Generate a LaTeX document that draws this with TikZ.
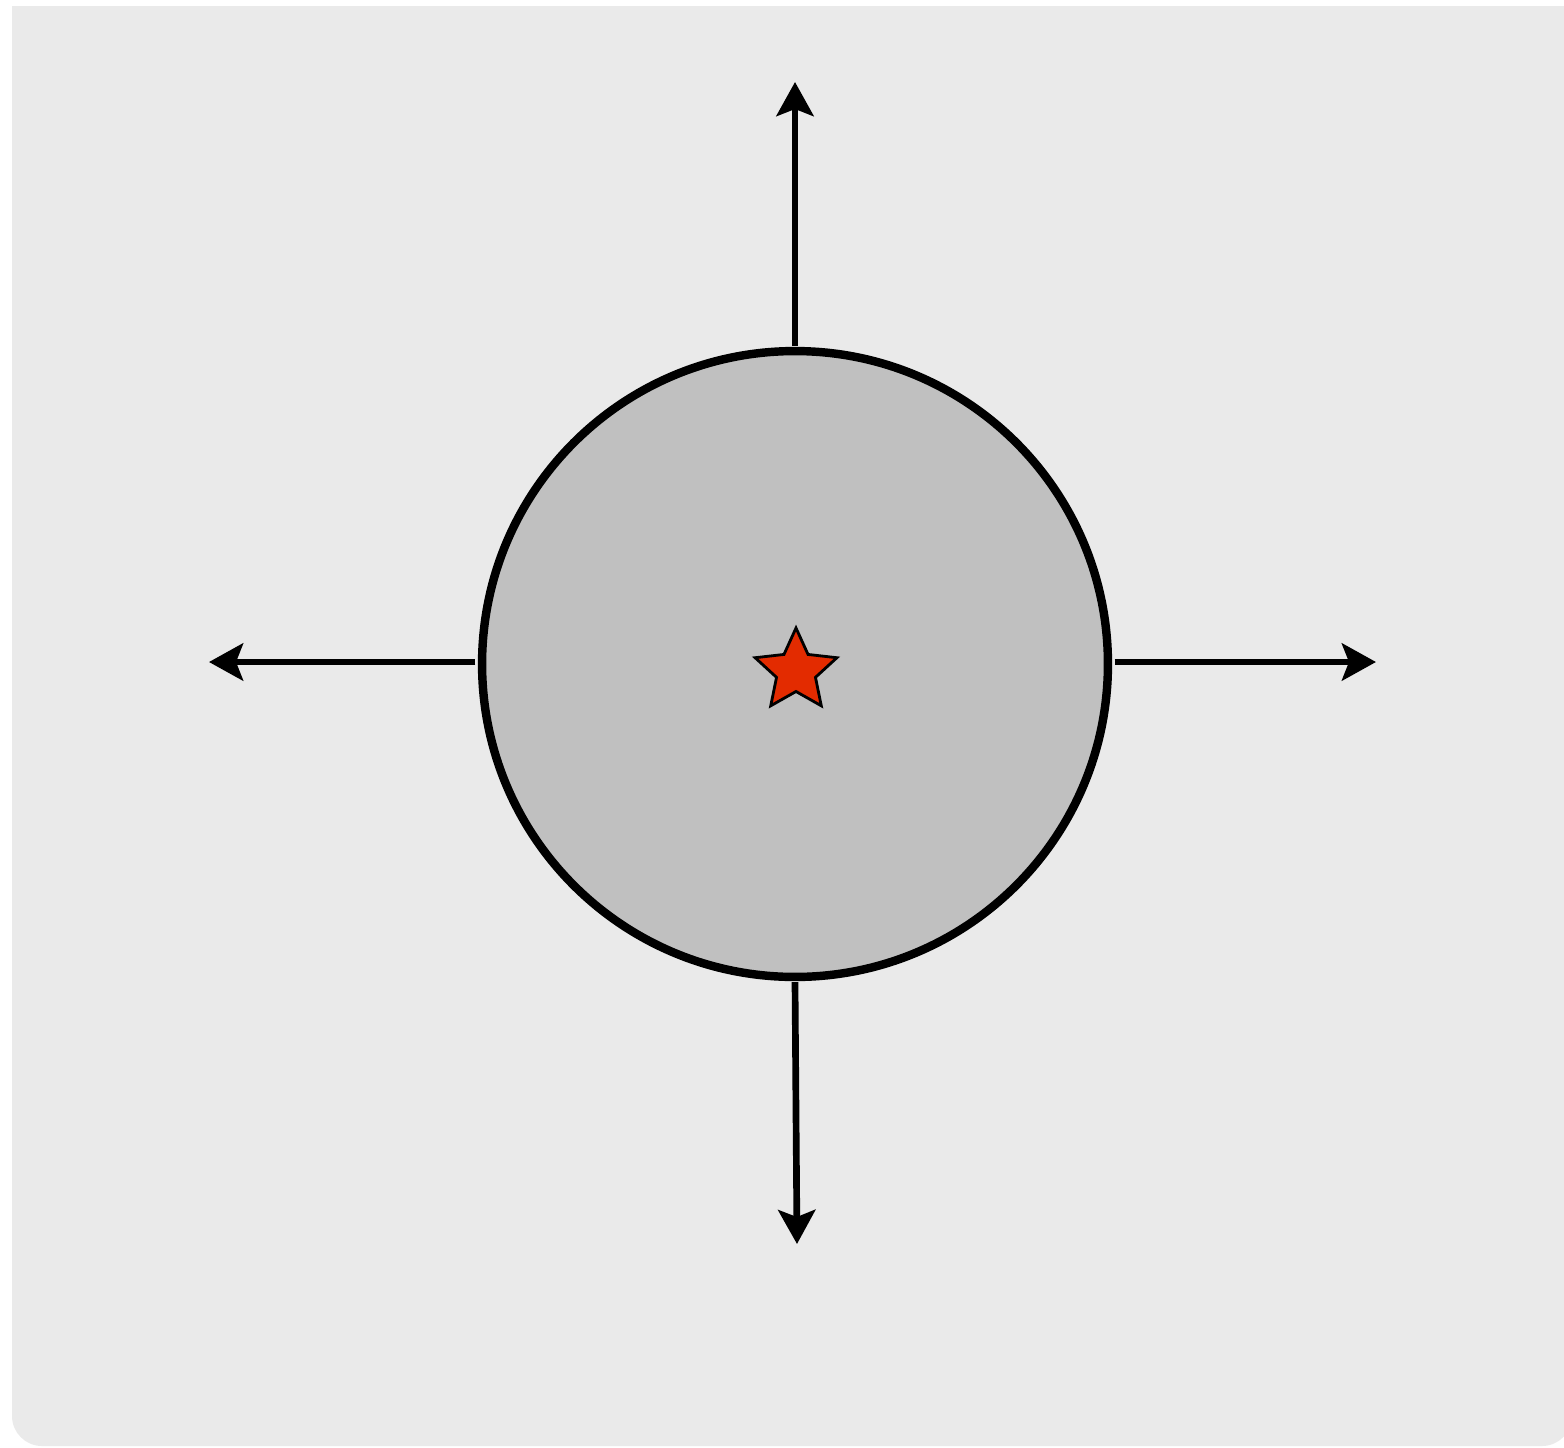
\documentclass[tikz,border=0pt]{standalone}
\usepackage{tikz}
\usetikzlibrary{positioning,arrows.meta,shapes.geometric}
\definecolor{fundal}{HTML}{EAEAEA}
\definecolor{disc}{HTML}{C0C0C0}
\definecolor{stearoso}{HTML}{E32B00}
\tikzset{
  cerc/.style     = {circle, draw, fill=disc, line width=4.8pt, inner sep=0pt,
                     minimum size=12.52cm},
  stea/.style     = {star, star points=5, star point ratio=2.1, draw, fill=stearoso,
                     line width=1.6pt, inner sep=0pt, minimum size=1.72cm},
  sageata/.style  = {-{Stealth[length=6.8mm, width=7.4mm, inset=1.4mm]}, line width=3.8pt}
}
\begin{document}
\begin{tikzpicture}[x=0.02cm, y=-0.02cm]
        \useasboundingbox (0,0) rectangle (1564,1447);
        \fill[fundal] (12,6) [rounded corners=0.6cm] -- (12,1446) -- (1572,1446) [sharp corners] -- (1572,6) -- cycle;

        \node[cerc] (disc) at (795,664) {};
        \node[stea] (centru) at (796,671) {};

        \coordinate (nord) at (795,82);
        \coordinate (sud) at (797,1244);
        \coordinate (vest) at (209,662);
        \coordinate (est) at (1376,662);

        \draw[sageata] ([yshift=0.02cm]disc.north) -- (nord);
        \draw[sageata] ([yshift=-0.02cm]disc.south) -- (sud);
        \draw[sageata] ([xshift=-0.05cm]disc.west |- vest) -- (vest);
        \draw[sageata] ([xshift=0.05cm]disc.east |- est) -- (est);
    \end{tikzpicture}
\end{document}
